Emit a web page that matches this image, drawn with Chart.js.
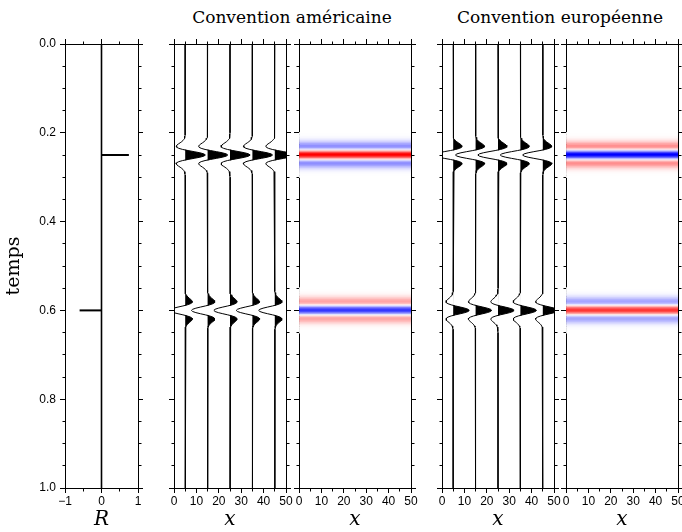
<!DOCTYPE html>
<html><head><meta charset="utf-8">
<script src="https://cdn.jsdelivr.net/npm/chart.js@4/dist/chart.umd.min.js"></script>
<style>
html,body{margin:0;padding:0;background:#fff;}
#wrap{position:relative;width:682px;height:532px;overflow:hidden;background:#fff;}
#wrap canvas{position:absolute;top:0;}
.ttl{position:absolute;top:7px;line-height:20px;font-family:'DejaVu Serif',serif;font-size:17px;color:#000;white-space:nowrap;transform:translateX(-50%);}
</style></head><body>
<div id="wrap">
<div class="ttl" id="t1" style="left:292px"></div>
<div class="ttl" id="t2" style="left:560px"></div>
<canvas id="p1"></canvas><canvas id="p2"></canvas><canvas id="p3"></canvas><canvas id="p4"></canvas><canvas id="p5"></canvas>
</div>
<script>
// ---------------- data ----------------
const eventTimes = [0.25, 0.6];          // temps of reflectors
const reflectivity = [0.75, -0.6];       // R
const traceOffsets = [5, 15, 25, 35, 45]; // x of wiggle traces
const waveletLagStep = 0.0025;           // s between wavelet samples
const waveletAmp = [0,-0.002,-0.005,-0.011,-0.021,-0.039,-0.069,-0.113,-0.175,-0.251,-0.334,-0.406,-0.445,-0.423,-0.319,-0.126,0.141,0.445,0.727,0.927,
  1,
  0.927,0.727,0.445,0.141,-0.126,-0.319,-0.423,-0.445,-0.406,-0.334,-0.251,-0.175,-0.113,-0.069,-0.039,-0.021,-0.011,-0.005,-0.002,0];
const conventionNames = ['Convention américaine', 'Convention européenne'];
const conventionPolarity = [1, -1];
const yTickLabels = ['0.0','0.2','0.4','0.6','0.8','1.0'];
const rTickLabels = ['\u22121','0','1'];
const xTickLabels = ['0','10','20','30','40','50'];
const traceGain = 12;

// ---------------- helpers ----------------
Chart.defaults.font.family = "'Liberation Sans', Arial, sans-serif";
Chart.defaults.font.size = 12;
Chart.defaults.color = '#000';
Chart.defaults.animation = false;

const H = 532, AREA_TOP = 44, AREA_BOTTOM = 488, SIDE = 30;
const serif = "'DejaVu Serif', serif";

function near(v, step){ return Math.abs(v/step - Math.round(v/step)) < 1e-6; }
function dashFn(step, outerFirst){
  return c => (c.tick && near(c.tick.value, step)) ? [] : (outerFirst ? [0,2.5,2.5,20] : [2.5,20]);
}
function axis(id, position, min, max, minor, major, o) {
  const horiz = position === 'top' || position === 'bottom';
  const outerFirst = position === 'top' || position === 'left';
  return {
    type: 'linear', axis: horiz ? 'x' : 'y', position, min, max, reverse: !horiz, offset: false,
    grid: {display: true, drawOnChartArea: false, drawTicks: true, tickLength: 5, tickWidth: 1,
           tickColor: '#000', offset: false, tickBorderDash: dashFn(major, outerFirst)},
    border: {display: true, color: '#000', width: 1},
    ticks: {display: !!o.labels, stepSize: minor, autoSkip: false, maxRotation: 0, minRotation: 0,
            padding: o.pad == null ? 2 : o.pad, color: '#000', font: {size: 12},
            callback: v => (o.labels && near(v - min, major)) ? o.labels[Math.round((v - min) / major)] : ''},
    title: o.title ? {display: true, text: o.title, color: '#000',
            font: {family: serif, size: o.titleSize || 20, style: o.italic ? 'italic' : 'normal', lineHeight: 1.2},
            padding: o.titlePad || {top: 0, bottom: 0}} : {display: false},
    afterFit: s => { if (horiz) s.height = o.size; else s.width = o.size; }
  };
}
function scalesFor(xmin, xmax, xminor, xmajor, xlabels, xtitle, leftW, ylabels, ytitle) {
  return {
    x:  axis('x', 'bottom', xmin, xmax, xminor, xmajor, {labels: xlabels, title: xtitle, italic: true, size: H - AREA_BOTTOM, pad: 1}),
    xt: axis('xt', 'top', xmin, xmax, xminor, xmajor, {size: AREA_TOP}),
    y:  axis('y', 'left', 0, 1, 0.05, 0.2, {labels: ylabels, title: ytitle, titleSize: 19, titlePad: {top: 3, bottom: 0}, size: leftW, pad: 4}),
    yr: axis('yr', 'right', 0, 1, 0.05, 0.2, {size: SIDE})
  };
}
function place(id, areaLeft, areaRight, leftW) {
  const c = document.getElementById(id);
  const w = leftW + (areaRight - areaLeft) + SIDE;
  c.width = w; c.height = H;
  c.style.left = (areaLeft - leftW) + 'px';
  c.style.width = w + 'px'; c.style.height = H + 'px';
  return c;
}
const baseOpts = (scales) => ({
  responsive: false, animation: false, indexAxis: 'y',
  layout: {padding: 0},
  plugins: {legend: {display: false}, tooltip: {enabled: false}, title: {display: false}},
  scales
});

// ---------------- panel 1 : reflectivity ----------------
(function(){
  const c = place('p1', 65, 138, 65);
  const ds = [{data: [{x: 0, y: 0}, {x: 0, y: 1}], borderColor: '#000', borderWidth: 1.6, pointRadius: 0, fill: false, xAxisID: 'x', yAxisID: 'y'}];
  eventTimes.forEach((t, k) => ds.push({data: [{x: 0, y: t}, {x: reflectivity[k], y: t}], borderColor: '#000', borderWidth: 2,
    pointRadius: 0, fill: false, xAxisID: 'x', yAxisID: 'y'}));
  new Chart(c, {type: 'line', data: {datasets: ds},
    options: baseOpts(scalesFor(-1, 1, 0.5, 1, rTickLabels, 'R', 65, yTickLabels, 'temps'))});
})();

// ---------------- wiggle + colour panels ----------------
const half = (waveletAmp.length - 1) / 2;
function tracePoints(x0, s, positiveOnly) {
  const pts = [{x: x0, y: 0}];
  eventTimes.forEach((t0, k) => {
    waveletAmp.forEach((w, j) => {
      let v = s * reflectivity[k] * w;
      if (positiveOnly) v = Math.max(0, v);
      pts.push({x: x0 + traceGain * v, y: t0 + (j - half) * waveletLagStep});
    });
  });
  pts.push({x: x0, y: 1});
  return pts;
}
const maxAbsR = Math.max(...reflectivity.map(Math.abs));
function colorFor(v) {
  const t = Math.max(-1, Math.min(1, v / maxAbsR));
  if (t >= 0) { const g = Math.round(255 * (1 - t)); return `rgb(255,${g},${g})`; }
  const g = Math.round(255 * (1 + t)); return `rgb(${g},${g},255)`;
}
function wigglePanel(id, l, r, s) {
  const c = place(id, l, r, SIDE);
  const ds = [];
  traceOffsets.forEach(x0 => {
    ds.push({data: tracePoints(x0, s, true), borderWidth: 0, borderColor: 'rgba(0,0,0,0)', backgroundColor: '#000',
      fill: {value: x0}, pointRadius: 0, tension: 0, xAxisID: 'x', yAxisID: 'y'});
    ds.push({data: tracePoints(x0, s, false), borderWidth: 1, borderColor: '#000', fill: false,
      pointRadius: 0, tension: 0, xAxisID: 'x', yAxisID: 'y'});
  });
  new Chart(c, {type: 'line', data: {datasets: ds},
    options: baseOpts(scalesFor(0, 50, 5, 10, xTickLabels, 'x', SIDE, null, null))});
}
function colorPanel(id, l, r, s) {
  const c = place(id, l, r, SIDE);
  const rows = [], cols = [];
  eventTimes.forEach((t0, k) => waveletAmp.forEach((w, j) => {
    rows.push({x: [0, 50], y: t0 + (j - half) * waveletLagStep});
    cols.push(colorFor(s * reflectivity[k] * w));
  }));
  new Chart(c, {type: 'bar', data: {datasets: [{data: rows, backgroundColor: cols, borderWidth: 0,
      barPercentage: 1, categoryPercentage: 1, grouped: false, xAxisID: 'x', yAxisID: 'y'}]},
    options: baseOpts(scalesFor(0, 50, 5, 10, xTickLabels, 'x', SIDE, null, null))});
}
document.getElementById('t1').textContent = conventionNames[0];
document.getElementById('t2').textContent = conventionNames[1];
wigglePanel('p2', 174, 286, conventionPolarity[0]);
colorPanel('p3', 299, 411, conventionPolarity[0]);
wigglePanel('p4', 442, 554, conventionPolarity[1]);
colorPanel('p5', 566, 678, conventionPolarity[1]);
</script>
</body></html>
